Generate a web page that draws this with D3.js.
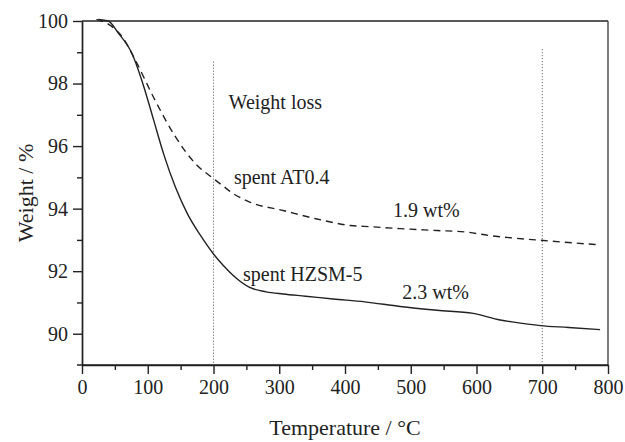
<!DOCTYPE html>
<html lang="en">
<head>
    <meta charset="UTF-8">
    <title>TGA</title>
    <script src="https://d3js.org/d3.v7.min.js"></script>
    <style>
        body { margin: 0; background: #fff; }
        text { font-family: "Liberation Serif", "Times New Roman", serif; fill: #222; }
        .axis path, .axis line { stroke: #222; stroke-width: 1.4; }
        .axis text { font-size: 20px; }
    </style>
</head>
<body>
    <script>
        // temperature (°C) and weight (%)
        var hzsmT = [25, 40, 55, 76, 94, 109, 124, 142, 160, 180, 200, 215, 230, 255, 280, 306, 340, 382, 430, 484, 540, 595, 636, 670, 697, 740, 788];
        var hzsmW = [100.05, 100.0, 99.62, 98.96, 97.9, 96.83, 95.76, 94.69, 93.85, 93.15, 92.55, 92.18, 91.86, 91.48, 91.34, 91.27, 91.2, 91.11, 91.02, 90.87, 90.75, 90.65, 90.44, 90.33, 90.26, 90.2, 90.13];
        var atT = [22, 40, 61, 81, 111, 142, 172, 200, 213, 230, 255, 306, 357, 408, 440, 484, 540, 585, 620, 651, 702, 750, 788];
        var atW = [100.05, 99.9, 99.5, 98.75, 97.47, 96.3, 95.45, 94.96, 94.75, 94.48, 94.21, 93.94, 93.67, 93.46, 93.42, 93.36, 93.3, 93.25, 93.14, 93.07, 92.98, 92.9, 92.84];
        var xTicks = [0, 100, 200, 300, 400, 500, 600, 700, 800];
        var xMinor = [50, 150, 250, 350, 450, 550, 650, 750];
        var yTicks = [90, 92, 94, 96, 98, 100];
        var yMinor = [91, 93, 95, 97, 99];
        var markers = [200, 700];
        var labels = [
            { text: "Weight loss", t: 223, w: 97.2 },
            { text: "spent AT0.4", t: 231, w: 94.8 },
            { text: "1.9 wt%", t: 473, w: 93.74 },
            { text: "spent HZSM-5", t: 245, w: 91.7 },
            { text: "2.3 wt%", t: 487, w: 91.1 }
        ];

        var width = 625, height = 442;
        var margin = { top: 21, right: 17, bottom: 77, left: 82 };
        var svg = d3.select("body").append("svg").attr("width", width).attr("height", height);
        var g = svg.append("g").attr("transform", "translate(" + margin.left + "," + margin.top + ")");
        var w = width - margin.left - margin.right, h = height - margin.top - margin.bottom;

        var x = d3.scaleLinear().domain([0, 800]).range([0, w]);
        var y = d3.scaleLinear().domain([89, 100]).range([h, 0]);

        // frame top & right
        g.append("line").attr("x1", 0).attr("x2", w).attr("y1", 0).attr("y2", 0).attr("stroke", "#222").attr("stroke-width", 1.4);
        g.append("line").attr("x1", w).attr("x2", w).attr("y1", 0).attr("y2", h).attr("stroke", "#444").attr("stroke-width", 1.4);

        // minor ticks
        g.append("g").attr("class", "axis").attr("transform", "translate(0," + h + ")")
            .call(d3.axisBottom(x).tickValues(xMinor).tickSize(5).tickFormat("").tickSizeOuter(0));
        g.append("g").attr("class", "axis")
            .call(d3.axisLeft(y).tickValues(yMinor).tickSize(5).tickFormat("").tickSizeOuter(0));

        var xAxis = g.append("g").attr("class", "axis").attr("transform", "translate(0," + h + ")")
            .call(d3.axisBottom(x).tickValues(xTicks).tickSize(9).tickPadding(6).tickSizeOuter(0));
        xAxis.select(".domain").attr("d", "M-5,0H" + w);
        g.append("g").attr("class", "axis")
            .call(d3.axisLeft(y).tickValues(yTicks).tickSize(9).tickPadding(5).tickSizeOuter(0));

        // dotted markers
        g.selectAll(".marker").data(markers).enter().append("line")
            .attr("x1", function (d) { return x(d); }).attr("x2", function (d) { return x(d); })
            .attr("y1", function (d) { return d == 200 ? y(98.7) : y(99.1); }).attr("y2", h)
            .attr("stroke", "#555").attr("stroke-width", 1).attr("stroke-dasharray", "1,2");

        var line = d3.line()
            .x(function (d) { return x(d[0]); })
            .y(function (d) { return y(d[1]); })
            .curve(d3.curveMonotoneX);

        g.append("path").datum(d3.zip(hzsmT, hzsmW)).attr("d", line)
            .attr("fill", "none").attr("stroke", "#222").attr("stroke-width", 1.4);
        g.append("path").datum(d3.zip(atT, atW)).attr("d", line)
            .attr("fill", "none").attr("stroke", "#222").attr("stroke-width", 1.4).attr("stroke-dasharray", "7,5");

        g.selectAll(".lbl").data(labels).enter().append("text")
            .attr("x", function (d) { return x(d.t); })
            .attr("y", function (d) { return y(d.w); })
            .attr("font-size", 20).text(function (d) { return d.text; });

        svg.append("text").attr("x", margin.left + w / 2).attr("y", 435)
            .attr("text-anchor", "middle").attr("font-size", 22).text("Temperature / °C");
        svg.append("text").attr("transform", "translate(33," + (margin.top + h / 2) + ") rotate(-90)")
            .attr("text-anchor", "middle").attr("font-size", 22).text("Weight / %");
    </script>
</body>
</html>
